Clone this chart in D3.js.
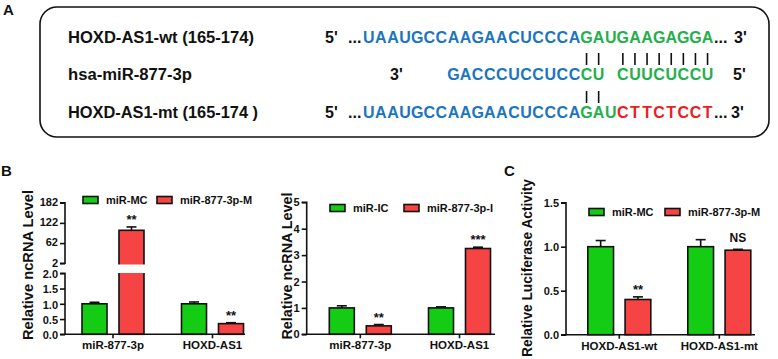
<!DOCTYPE html>
<html><head><meta charset="utf-8">
<script src="https://cdn.jsdelivr.net/npm/d3@7"></script>
<style>
body{margin:0;background:#fff}
text{font-family:"Liberation Sans",Arial,sans-serif;font-weight:bold;fill:#111}
</style>
</head><body><svg id="c" width="778" height="359"></svg>
<script>
// ---------- Panel A data ----------
const seqLabels = ["HOXD-AS1-wt (165-174)", "hsa-miR-877-3p", "HOXD-AS1-mt (165-174 )"];
const wtSegments = [["UAAUGCCAAGAACUCCCA", "blue"], ["GAUGAAGAGGA", "green"]];
const mirSegments = [["GACCCUCCUCC", "blue"], ["CU", "green"], [" ", "none"], ["CUUCUCCU", "green"]];
const mtSegments = [["UAAUGCCAAGAACUCCCA", "blue"], ["GAU", "green"], ["CTTCTCCT", "red"]];
const mirStartCol = 7;
const pairColsTop = [18, 19, 21, 22, 23, 24, 25, 26, 27, 28];
const pairColsBottom = [18, 19];

// ---------- Panel B (left) data ----------
const b1Categories = ["miR-877-3p", "HOXD-AS1"];
const b1Series = ["miR-MC", "miR-877-3p-M"];
const b1Values = [[1.0, 1.0], [100, 0.35]];
const b1Errors = [[0.05, 0.06], [10, 0.03]];
const b1Stars = ["**", "**"];
const b1TicksLow = [0, 0.5, 1.0, 1.5, 2.0];
const b1TicksHigh = [2, 62, 122, 182];

// ---------- Panel B (right) data ----------
const b2Categories = ["miR-877-3p", "HOXD-AS1"];
const b2Series = ["miR-IC", "miR-877-3p-I"];
const b2Values = [[1.0, 1.0], [0.32, 3.25]];
const b2Errors = [[0.08, 0.04], [0.05, 0.05]];
const b2Stars = ["**", "***"];
const b2Ticks = [0, 1, 2, 3, 4, 5];

// ---------- Panel C data ----------
const cCategories = ["HOXD-AS1-wt", "HOXD-AS1-mt"];
const cSeries = ["miR-MC", "miR-877-3p-M"];
const cValues = [[1.0, 1.0], [0.40, 0.96]];
const cErrors = [[0.07, 0.08], [0.03, 0.01]];
const cStars = ["**", "NS"];
const cTicks = [0.0, 0.5, 1.0, 1.5];

const COL = {blue: "#1b75c0", green: "#22b04b", red: "#ec1c24", none: "none"};
const BAR = ["#14cc14", "#f64343"];

const svg = d3.select("#c");

// ---------- Panel A ----------
svg.append("text").attr("x", 3).attr("y", 15).style("font-size", "15px").text("A");
svg.append("rect").attr("x", 40).attr("y", 7).attr("width", 729).attr("height", 130)
  .attr("rx", 17).attr("fill", "none").attr("stroke", "#111").attr("stroke-width", 1.6);

const rowY = [43, 80, 118];
const labelLen = [186, 124, 190];
seqLabels.forEach((t, i) => {
  svg.append("text").attr("x", 68).attr("y", rowY[i]).style("font-size", "16px")
    .attr("textLength", labelLen[i]).attr("lengthAdjust", "spacingAndGlyphs").text(t);
});
const col = d3.scaleLinear().domain([0, 29]).range([362.7, 713.6]);
function drawSeq(segs, startCol, y) {
  let c = startCol;
  segs.forEach(([s, color]) => {
    for (const ch of s) {
      if (ch !== " ") {
        svg.append("text").attr("x", col(c + 0.5)).attr("y", y).attr("text-anchor", "middle")
          .style("font-size", "16px").style("fill", COL[color]).text(ch);
      }
      c++;
    }
  });
}
drawSeq(wtSegments, 0, rowY[0]);
drawSeq(mirSegments, mirStartCol, rowY[1]);
drawSeq(mtSegments, 0, rowY[2]);
const endTxt = [
  ["5'", 325, 0], ["...", 348, 0], ["...", 714, 0], ["3'", 734, 0],
  ["3'", 390, 1], ["5'", 733, 1],
  ["5'", 325, 2], ["...", 348, 2], ["...", 714, 2], ["3'", 731, 2]
];
endTxt.forEach(([t, x, r]) => svg.append("text").attr("x", x).attr("y", rowY[r]).style("font-size", "16px").text(t));
pairColsTop.forEach(cc => svg.append("line").attr("x1", col(cc + 0.5)).attr("x2", col(cc + 0.5))
  .attr("y1", 53).attr("y2", 65).attr("stroke", "#111").attr("stroke-width", 1.6));
pairColsBottom.forEach(cc => svg.append("line").attr("x1", col(cc + 0.5)).attr("x2", col(cc + 0.5))
  .attr("y1", 91).attr("y2", 103).attr("stroke", "#111").attr("stroke-width", 1.6));

// ---------- Bar chart helper ----------
function barChart(o) {
  const g = svg.append("g");
  const x = d3.scaleBand().domain(o.categories).range([o.center0 - o.step / 2, o.center0 + o.step * 1.5]).paddingInner(0).paddingOuter(0);
  const xs = d3.scaleBand().domain(o.series).range([-o.half, o.half]).paddingInner(o.inner);
  const y = o.y;
  const y0 = o.baseY;
  o.series.forEach((s, si) => {
    o.categories.forEach((c, ci) => {
      const v = o.values[si][ci], e = o.errors[si][ci];
      const bx = x(c) + x.bandwidth() / 2 + xs(s);
      const top = y(v);
      const etop = y(v + e);
      const cx = bx + xs.bandwidth() / 2;
      g.append("line").attr("x1", cx).attr("x2", cx).attr("y1", top).attr("y2", etop)
        .attr("stroke", "#111").attr("stroke-width", 1.6);
      g.append("line").attr("x1", cx - 5).attr("x2", cx + 5).attr("y1", etop).attr("y2", etop)
        .attr("stroke", "#111").attr("stroke-width", 1.6);
      g.append("rect").attr("x", bx).attr("y", top).attr("width", xs.bandwidth()).attr("height", y0 - top)
        .attr("fill", BAR[si]).attr("stroke", "#111").attr("stroke-width", 1.6);
      if (o.gap && v > o.gap.v) {
        g.append("rect").attr("x", bx - 2).attr("y", o.gap.y1).attr("width", xs.bandwidth() + 4)
          .attr("height", o.gap.y2 - o.gap.y1).attr("fill", "#fff");
      }
      if (si === 1) {
        const st = o.stars[ci];
        const isStar = st.indexOf("*") >= 0;
        g.append("text").attr("x", cx).attr("y", isStar ? etop - 3 : etop - 7)
          .attr("text-anchor", "middle").style("font-size", isStar ? "13px" : "12px").text(st);
      }
    });
  });
  o.yAxes.forEach(ax => {
    const a = g.append("g").attr("transform", `translate(${o.axisX},0)`)
      .call(d3.axisLeft(ax.scale).tickValues(ax.ticks).tickFormat(ax.fmt).tickSize(5).tickPadding(2));
    a.select(".domain").attr("d", `M-5,${ax.scale.range()[0]}H0V${ax.scale.range()[1]}H-5`);
    a.selectAll("path,line").attr("stroke", "#111").attr("stroke-width", 1.6);
    a.selectAll("text").style("font-size", "11px").style("font-family", "'Liberation Sans',Arial,sans-serif")
      .style("font-weight", "bold").attr("fill", "#111").attr("dy", ax.dy || "0.32em");
  });
  const xa = g.append("g").attr("transform", `translate(0,${y0})`)
    .call(d3.axisBottom(x).tickSize(4).tickPadding(3));
  xa.select(".domain").remove();
  xa.append("line").attr("x1", o.axisX).attr("x2", o.axisEnd).attr("y1", 0).attr("y2", 0)
    .attr("stroke", "#111").attr("stroke-width", 1.6);
  xa.selectAll("line").attr("stroke", "#111").attr("stroke-width", 1.6);
  xa.selectAll("text").style("font-size", "11.5px").style("font-family", "'Liberation Sans',Arial,sans-serif").style("font-weight", "bold").attr("fill", "#111");
  g.append("text").attr("transform", `translate(${o.labelX},${o.labelY}) rotate(-90)`)
    .attr("text-anchor", "middle").style("font-size", "15px")
    .attr("textLength", o.labelLen).attr("lengthAdjust", "spacingAndGlyphs").text(o.ylabel);
  o.series.forEach((s, si) => {
    g.append("rect").attr("x", o.legend.x[si]).attr("y", o.legend.y - 3.5).attr("width", 15).attr("height", 7)
      .attr("fill", BAR[si]).attr("stroke", "#111").attr("stroke-width", 1.6);
    g.append("text").attr("x", o.legend.x[si] + 23).attr("y", o.legend.y + 4)
      .style("font-size", "11px").text(s);
  });
}

// Panel B left (broken axis)
const b1Low = d3.scaleLinear().domain([0, 2]).range([334.3, 273.3]);
const b1High = d3.scaleLinear().domain([2, 182]).range([263.3, 202.7]);
const b1Y = v => v <= 2 ? b1Low(v) : b1High(v);
svg.append("text").attr("x", 1).attr("y", 176).style("font-size", "15px").text("B");
barChart({
  categories: b1Categories, series: b1Series, values: b1Values, errors: b1Errors, stars: b1Stars,
  center0: 113, step: 99.5, half: 31, inner: 0.324,
  y: b1Y, baseY: 334.3, axisX: 65, axisEnd: 245,
  yAxes: [{scale: b1Low, ticks: b1TicksLow, fmt: d3.format(".1f"), dy: "0.4em"},
          {scale: b1High, ticks: b1TicksHigh, fmt: d3.format("d"), dy: "0.25em"}],
  gap: {v: 2, y1: 264.5, y2: 273},
  ylabel: "Relative ncRNA Level", labelX: 33, labelY: 265, labelLen: 150,
  legend: {x: [83, 157], y: 200}
});

// Panel B right
const b2Scale = d3.scaleLinear().domain([0, 5]).range([334.3, 202.3]);
barChart({
  categories: b2Categories, series: b2Series, values: b2Values, errors: b2Errors, stars: b2Stars,
  center0: 360.3, step: 99.2, half: 31, inner: 0.324,
  y: b2Scale, baseY: 334.3, axisX: 306.7, axisEnd: 495,
  yAxes: [{scale: b2Scale, ticks: b2Ticks, fmt: d3.format("d")}],
  ylabel: "Relative ncRNA Level", labelX: 292, labelY: 266, labelLen: 147,
  legend: {x: [330, 404], y: 208}
});

// Panel C
const cScale = d3.scaleLinear().domain([0, 1.5]).range([334.7, 202.7]);
svg.append("text").attr("x", 504).attr("y", 176).style("font-size", "15px").text("C");
barChart({
  categories: cCategories, series: cSeries, values: cValues, errors: cErrors, stars: cStars,
  center0: 619.3, step: 100, half: 31.5, inner: 0.31,
  y: cScale, baseY: 334.7, axisX: 566, axisEnd: 755,
  yAxes: [{scale: cScale, ticks: cTicks, fmt: d3.format(".1f")}],
  ylabel: "Relative Luciferase Activity", labelX: 532, labelY: 268, labelLen: 178,
  legend: {x: [589, 665], y: 212}
});
</script>
</body></html>
